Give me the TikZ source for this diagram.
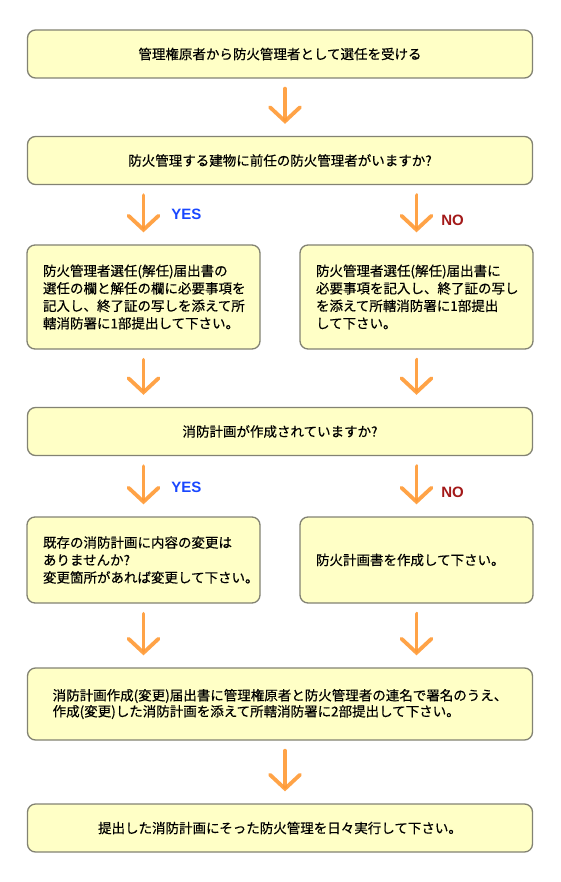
\documentclass[tikz,border=0pt]{standalone}
\usepackage{fontspec}
\setmainfont{Noto Sans CJK JP}[FakeBold=0.4]
\newfontfamily\yesno{Liberation Sans}
\usetikzlibrary{arrows.meta,positioning}
\definecolor{boxfill}{RGB}{255,255,198}
\definecolor{boxline}{RGB}{130,130,115}
\definecolor{crayon}{RGB}{255,153,51}
\definecolor{yesblue}{RGB}{0,51,255}
\definecolor{nored}{RGB}{153,0,0}
\tikzset{
  wide/.style={draw=boxline, line width=1.3pt, fill=boxfill, rounded corners=8pt, align=left, inner sep=0pt,
    minimum width=505pt, minimum height=48pt, font=\fontsize{13.5}{16}\selectfont},
  half/.style={draw=boxline, line width=1.3pt, fill=boxfill, rounded corners=8pt, align=left, inner sep=0pt,
    minimum width=233pt, text width=201pt, font=\fontsize{13.5}{17.5}\selectfont},
  down/.style={draw=crayon, line width=3.8pt, line cap=round, opacity=0.9,
    -{Straight Barb[length=14pt, width=30pt, line cap=round]}, shorten <=10pt, shorten >=12pt},
  ans/.style={font=\yesno\bfseries\fontsize{15}{15}\selectfont, inner sep=0pt},
}
\begin{document}
\begin{tikzpicture}[x=1pt, y=-1pt]
  \useasboundingbox (0,0) rectangle (560,882);
  \node[wide] (own) at (280,54) {管理権原者から防火管理者として選任を受ける};
  \node[wide] (prev) at (280,160.5) {防火管理する建物に前任の防火管理者がいますか?};
  \node[half, minimum height=104pt] (repl) at (143.5,297) {防火管理者選任(解任)届出書の\\選任の欄と解任の欄に必要事項を\\記入し、終了証の写しを添えて所\\轄消防署に1部提出して下さい。};
  \node[half, minimum height=104pt] (newm) at (416.5,297) {防火管理者選任(解任)届出書に\\必要事項を記入し、終了証の写し\\を添えて所轄消防署に1部提出\\して下さい。};
  \node[wide] (plan) at (280,431.5) {消防計画が作成されていますか?};
  \node[half, minimum height=86pt] (chk) at (143.5,560) {既存の消防計画に内容の変更は\\ありませんか?\\変更箇所があれば変更して下さい。};
  \node[half, minimum height=86pt] (mk) at (416.5,560) {防火計画書を作成して下さい。};
  \node[wide, minimum height=72pt] (sub) at (280,704) {消防計画作成(変更)届出書に管理権原者と防火管理者の連名で署名のうえ、\\作成(変更)した消防計画を添えて所轄消防署に2部提出して下さい。};
  \node[wide] (run) at (280,828) {提出した消防計画にそった防火管理を日々実行して下さい。};
  % arrows
  \draw[down] ([xshift=5pt]own.south) -- ([xshift=5pt]prev.north);
  \draw[down] (prev.south -| repl.north) -- (repl.north)
    node[ans, text=yesblue, pos=0.5, right=26pt] (y1) {YES};
  \draw[down] (prev.south -| newm.north) -- (newm.north)
    node[ans, text=nored, pos=0.6, right=23pt] (n1) {NO};
  \draw[down] (repl.south) -- (plan.north -| repl.south);
  \draw[down] (newm.south) -- (plan.north -| newm.south);
  \draw[down] (plan.south -| chk.north) -- (chk.north)
    node[ans, text=yesblue, pos=0.52, right=26pt] (y2) {YES};
  \draw[down] (plan.south -| mk.north) -- (mk.north)
    node[ans, text=nored, pos=0.6, right=23pt] (n2) {NO};
  \draw[down] (chk.south) -- (sub.north -| chk.south);
  \draw[down] (mk.south) -- (sub.north -| mk.south);
  \draw[down] ([xshift=5pt]sub.south) -- ([xshift=5pt]run.north);
\end{tikzpicture}
\end{document}
